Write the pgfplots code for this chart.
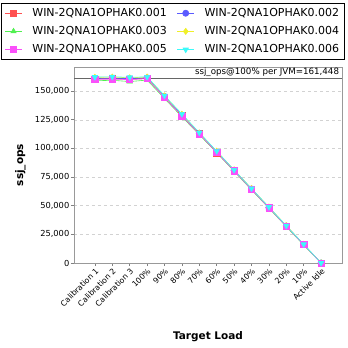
\documentclass[border=0pt]{standalone}
\usepackage{fontspec}
\setmainfont{DejaVu Sans}
\usepackage{pgfplots}
\pgfplotsset{compat=1.18}
\definecolor{sRed}{RGB}{255,80,80}
\definecolor{sBlue}{RGB}{90,90,255}
\definecolor{sGreen}{RGB}{80,240,80}
\definecolor{sYellow}{RGB}{240,240,40}
\definecolor{sMag}{RGB}{250,80,250}
\definecolor{sCyan}{RGB}{60,250,250}
\begin{document}
\begin{tikzpicture}
\begin{axis}[
  name=main, at={(0pt,0pt)}, anchor=south west,
  scale only axis, width=268pt, height=196pt,
  xmin=-1.2, xmax=14.2, ymin=0, ymax=171000,
  xtick={0,...,13},
  xticklabels={Calibration 1,Calibration 2,Calibration 3,100\%,90\%,80\%,70\%,60\%,50\%,40\%,30\%,20\%,10\%,Active Idle},
  x tick label style={rotate=45, anchor=north east, font=\fontsize{7.8}{8}\selectfont, inner sep=1pt},
  ytick={0,25000,50000,75000,100000,125000,150000},
  yticklabels={0,{25,000},{50,000},{75,000},{100,000},{125,000},{150,000}},
  y tick label style={font=\fontsize{8.3}{9}\selectfont, inner sep=1.5pt},
  scaled y ticks=false,
  tick align=outside, tick pos=left,
  major tick length=3pt,
  tick style={gray, line width=0.5pt},
  ymajorgrids, grid style={dashed, gray!35, line width=0.4pt},
  axis line style={gray!80, line width=0.8pt},
  xlabel={Target Load}, ylabel={ssj\_ops},
  label style={font=\fontsize{10.5}{11}\selectfont\bfseries},
  xlabel style={at={(axis description cs:0.5,-0.378)}, anchor=center},
  ylabel style={at={(axis description cs:-0.2,0.5)}, anchor=center},
  legend columns=2,
  legend style={at={(0.369,1.3265)}, anchor=north, draw=black, line width=0.8pt,
    font=\fontsize{11}{13}\selectfont, column sep=8pt, row sep=4.5pt,
    inner xsep=3pt, inner ysep=3pt},
  legend cell align=left,
  every axis plot/.append style={line width=0.6pt, mark size=3.1pt},
  clip=false,
]
\addplot[draw=black!60, line width=0.8pt, forget plot] coordinates {(-1.2,161448) (14.2,161448)};
\node[anchor=south east, font=\fontsize{8.7}{9}\selectfont, inner sep=1pt] at (axis cs:14.1,161448) {ssj\_ops@100\% per JVM=161,448};
\addplot[color=sRed, mark=square*] coordinates {(0,160500) (1,160800) (2,160300) (3,161000) (4,144600) (5,128400) (6,112800) (7,96200) (8,80600) (9,64400) (10,48300) (11,32200) (12,16000) (13,0)};
\addlegendentry{WIN-2QNA1OPHAK0.001}
\addplot[color=sBlue, mark=*] coordinates {(0,161000) (1,161300) (2,160800) (3,161600) (4,145300) (5,129000) (6,113200) (7,96900) (8,80800) (9,64600) (10,48400) (11,32300) (12,16100) (13,0)};
\addlegendentry{WIN-2QNA1OPHAK0.002}
\addplot[color=sGreen, mark=triangle*] coordinates {(0,159000) (1,159400) (2,158300) (3,159600) (4,143500) (5,127600) (6,111900) (7,96300) (8,80000) (9,63800) (10,47800) (11,31700) (12,15600) (13,0)};
\addlegendentry{WIN-2QNA1OPHAK0.003}
\addplot[color=sYellow, mark=diamond*] coordinates {(0,162000) (1,162200) (2,161600) (3,162200) (4,145800) (5,129800) (6,113400) (7,97500) (8,81300) (9,65000) (10,48800) (11,32600) (12,16300) (13,0)};
\addlegendentry{WIN-2QNA1OPHAK0.004}
\addplot[color=sMag, mark=square*] coordinates {(0,160200) (1,160400) (2,160000) (3,160800) (4,144400) (5,128300) (6,112500) (7,96500) (8,80400) (9,64200) (10,48100) (11,32000) (12,16000) (13,0)};
\addlegendentry{WIN-2QNA1OPHAK0.005}
\addplot[color=sCyan, mark=triangle*, mark options={rotate=180}] coordinates {(0,162200) (1,162500) (2,162000) (3,162400) (4,146000) (5,130000) (6,113800) (7,97600) (8,81200) (9,65000) (10,48800) (11,32500) (12,16300) (13,0)};
\addlegendentry{WIN-2QNA1OPHAK0.006}
\end{axis}
\pgfresetboundingbox
\path[use as bounding box] (-74pt,-85pt) rectangle (274pt,263pt);
\end{tikzpicture}
\end{document}
